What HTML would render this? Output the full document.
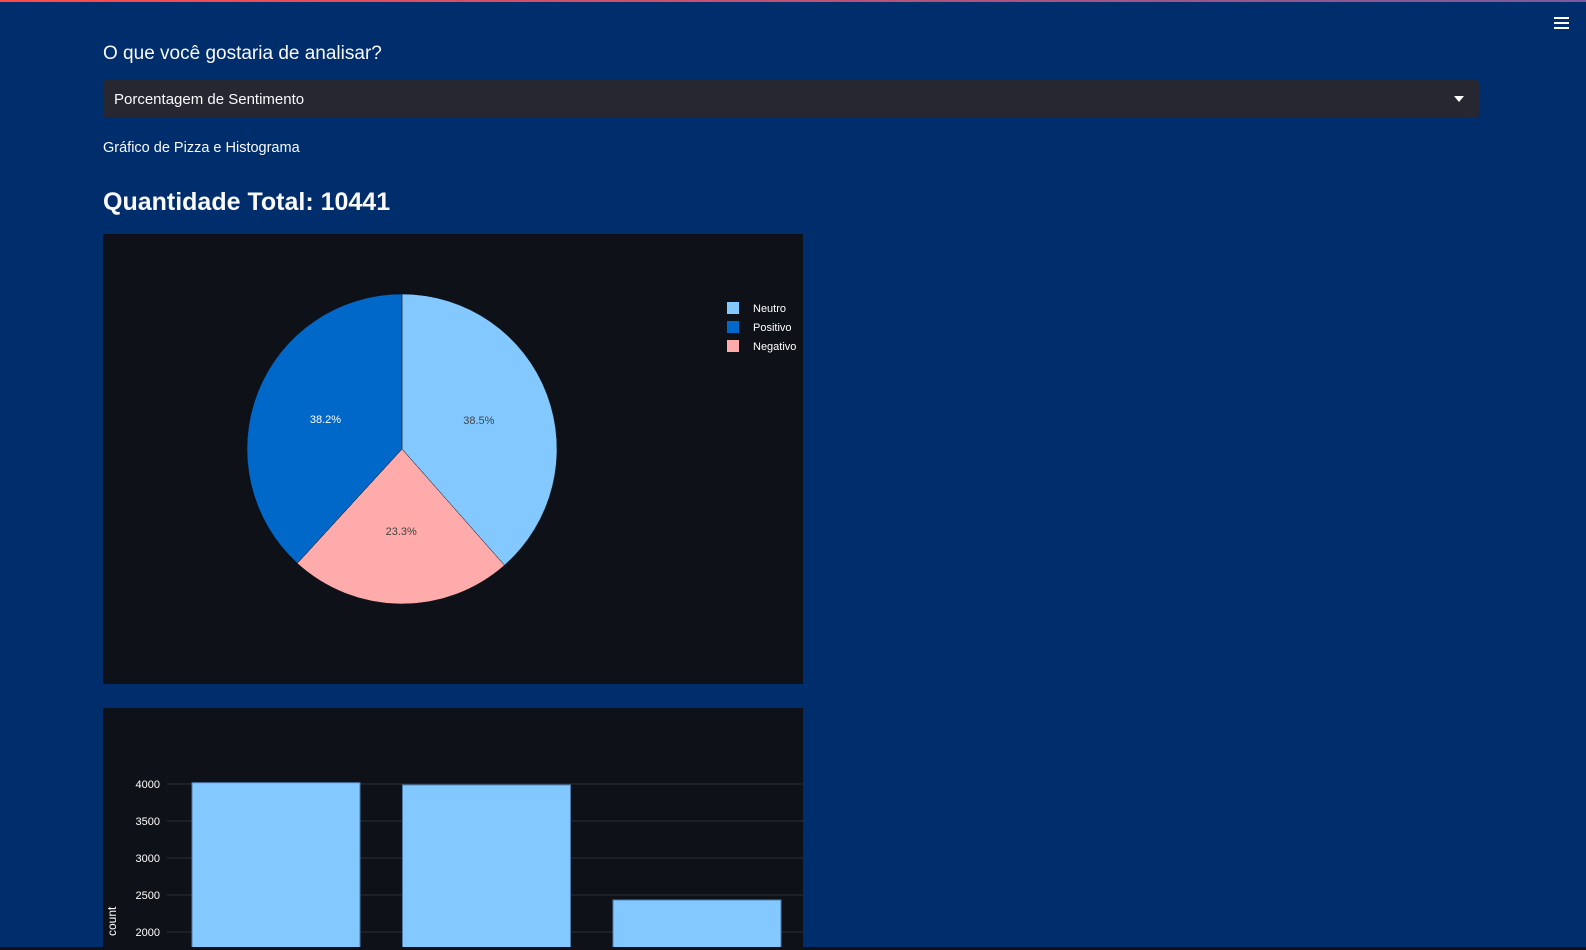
<!DOCTYPE html>
<html><head><meta charset="utf-8"><style>
body{margin:0;width:1586px;height:950px;overflow:hidden;background:#002d6c;font-family:"Liberation Sans",sans-serif;color:#fafafa;position:relative}
.abs{position:absolute}
</style></head><body>
<div class="abs" style="left:0;top:0;width:1586px;height:2px;background:linear-gradient(90deg,#ff4b4b,#7a5a9e)"></div>
<div class="abs" style="left:1554px;top:17px;width:15px;height:12px">
<div style="height:2px;background:#fff;margin-bottom:3px"></div><div style="height:2px;background:#fff;margin-bottom:3px"></div><div style="height:2px;background:#fff"></div></div>
<div class="abs" style="left:103px;top:43px;font-size:19px">O que você gostaria de analisar?</div>
<div class="abs" style="left:103px;top:80px;width:1376px;height:38px;background:#262730;border-radius:4px">
<span style="position:absolute;left:11px;top:11px;font-size:15px">Porcentagem de Sentimento</span>
<span style="position:absolute;right:15px;top:16px;width:0;height:0;border-left:5px solid transparent;border-right:5px solid transparent;border-top:6px solid #fff"></span></div>
<div class="abs" style="left:103px;top:140px;font-size:14.5px">Gráfico de Pizza e Histograma</div>
<div class="abs" style="left:103px;top:188px;font-size:25px;font-weight:bold">Quantidade Total: 10441</div>

<svg class="abs" style="left:103px;top:234px" width="700" height="450">
<rect width="700" height="450" fill="#0e1117"/>
<g id="pie"></g><g id="legend"></g>
</svg>
<svg class="abs" style="left:103px;top:708px" width="700" height="240">
<rect width="700" height="240" fill="#0e1117"/>
<g id="hist"></g>
</svg>
<div class="abs" style="left:0;top:947px;width:1586px;height:3px;background:#0e1117"></div>
<script>
const labels=["Neutro","Negativo","Positivo"];
const pieValues=[4020,2433,3988];
const legendOrder=["Neutro","Positivo","Negativo"];
const colors={"Neutro":"#83c9ff","Positivo":"#0068c9","Negativo":"#ffabab"};
const categories=["Neutro","Positivo","Negativo"];
const counts=[4018,3988,2433];
const yTicks=[2000,2500,3000,3500,4000];
const NS="http://www.w3.org/2000/svg";
function mk(t,a,p){const e=document.createElementNS(NS,t);for(const k in a)e.setAttribute(k,a[k]);p.appendChild(e);return e;}
const pie=document.getElementById('pie');
const cx=299,cy=215,R=155;
const tot=pieValues.reduce((a,b)=>a+b,0);
let ang=0;
labels.forEach((l,i)=>{
 const a0=ang,a1=ang+pieValues[i]/tot*2*Math.PI;ang=a1;
 const p=a=>[cx+R*Math.sin(a),cy-R*Math.cos(a)];
 const [x0,y0]=p(a0),[x1,y1]=p(a1);
 const s=mk('path',{d:`M${cx},${cy}L${x0},${y0}A${R},${R} 0 ${a1-a0>Math.PI?1:0} 1 ${x1},${y1}Z`,fill:colors[l],stroke:'#0e1117','stroke-width':0.5},pie);
 
 
 const am=(a0+a1)/2,r2=R*0.53;
 const t=mk('text',{x:cx+r2*Math.sin(am),y:cy-r2*Math.cos(am)+4,'text-anchor':'middle','font-size':11,fill:l==='Positivo'?'#fff':'#444'},pie);
 t.textContent=(pieValues[i]/tot*100).toFixed(1)+'%';
 
 
});
const lg=document.getElementById('legend');
legendOrder.forEach((l,i)=>{
 const g=mk('g',{},lg);
 
 
 mk('rect',{x:624,y:68+i*19,width:12,height:12,fill:colors[l]},g);
 const t=mk('text',{x:650,y:78+i*19,'font-size':11,fill:'#fff'},g);t.textContent=l;
});
const h=document.getElementById('hist');
const y=v=>76-(v-4000)*(148/2000);
const x0=89,bw=168,step=210.5;
yTicks.forEach(v=>{
 const l=mk('line',{x1:64,x2:700,y1:y(v),y2:y(v),stroke:'#2b2f3a'},h);
 
 
 const t=mk('text',{x:57,y:y(v)+4,'text-anchor':'end','font-size':11,fill:'#fff'},h);
 t.textContent=v;
 
 
});
categories.forEach((c,i)=>{
 const r=mk('rect',{x:x0+i*step,y:y(counts[i]),width:bw,height:300,fill:'#83c9ff',stroke:'#4a7aa8','stroke-width':1},h);
 
 
});
const yt=mk('text',{x:0,y:0,transform:'translate(13,228) rotate(-90)','font-size':12,fill:'#fff'},h);
yt.textContent='count';


</script>
</body></html>
